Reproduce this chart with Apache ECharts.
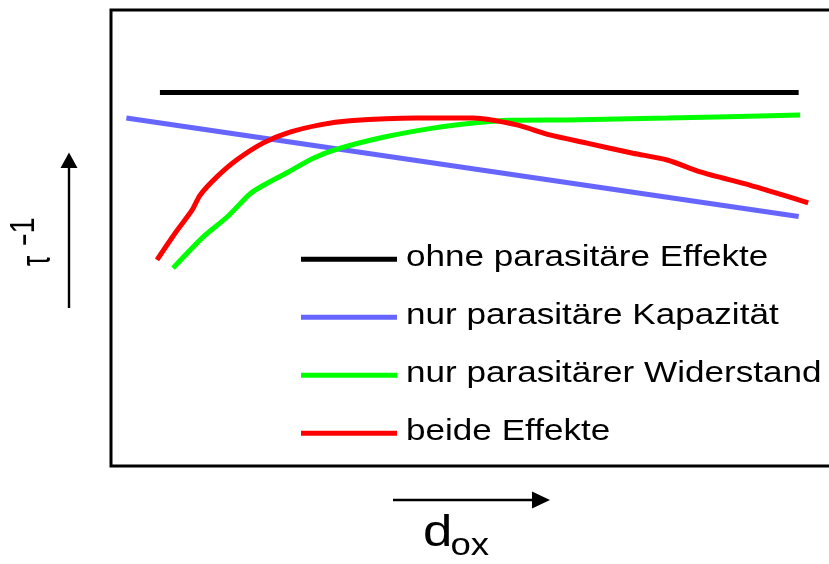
<!DOCTYPE html>
<html>
<head>
<meta charset="utf-8">
<script src="https://cdn.jsdelivr.net/npm/echarts@6/dist/echarts.min.js"></script>
<style>
  html, body { margin: 0; padding: 0; background: #fff; }
  #chart { width: 829px; height: 564px; }
</style>
</head>
<body>
<div id="chart"></div>
<script>
// Schematic: inverse time constant versus oxide thickness (arbitrary units, 0..100)
const seriesNames = [
  'ohne parasitäre Effekte',
  'nur parasitäre Kapazität',
  'nur parasitärer Widerstand',
  'beide Effekte'
];
const seriesColors = ['#000000', '#6666ff', '#00ff00', '#ff0000'];

// ohne parasitäre Effekte
const ohneX = [6.7, 94.2];
const ohneY = [81.9, 81.9];

// nur parasitäre Kapazität
const kapX = [2.1, 94.2];
const kapY = [76.3, 54.7];

// nur parasitärer Widerstand
const widX = [8.5, 12.6, 15.9, 19.0, 20.7, 24.1, 27.7, 31.4, 37.3, 44.1, 49.6, 54.7, 62.5, 76.2, 94.4];
const widY = [43.4, 50.2, 54.6, 59.6, 61.4, 64.3, 67.5, 69.7, 72.1, 74.1, 75.2, 75.8, 75.9, 76.3, 77.0];

// beide Effekte
const beideX = [6.3, 8.8, 11.1, 12.2, 14.5, 17.2, 20.8, 24.1, 28.6, 32.7, 41.9, 49.6, 55.6, 60.1, 65.2, 71.5, 76.2, 80.7, 87.5, 92.1, 95.5];
const beideY = [45.2, 51.1, 56.1, 59.4, 63.4, 67.1, 70.8, 73.0, 74.8, 75.7, 76.3, 76.3, 74.8, 72.6, 70.8, 68.6, 67.1, 64.5, 61.6, 59.4, 57.7];

const xs = [ohneX, kapX, widX, beideX];
const ys = [ohneY, kapY, widY, beideY];
const smoothing = [false, false, 0.25, 0.25];

const zip = (a, b) => a.map((v, i) => [v, b[i]]);

const FONT = '"Liberation Sans", Arial, Helvetica, sans-serif';
const STRETCH = 1.17;

const series = seriesNames.map((name, i) => ({
  name: name,
  type: 'line',
  data: zip(xs[i], ys[i]),
  symbol: 'none',
  smooth: smoothing[i],
  lineStyle: { color: seriesColors[i], width: 5, cap: 'butt' },
  itemStyle: { color: seriesColors[i] },
  silent: true,
  z: 3 + i
}));

// Legend entries: sample stroke + stretched label
const legendItems = [];
seriesNames.forEach((name, i) => {
  const yLine = 259.3 + 58 * i;
  legendItems.push({
    type: 'line',
    shape: { x1: 301, y1: yLine, x2: 397, y2: yLine },
    style: { stroke: seriesColors[i], lineWidth: 5, lineCap: 'butt' },
    silent: true
  });
  legendItems.push({
    type: 'group',
    x: 406, y: yLine + 8.5,
    scaleX: STRETCH,
    children: [{
      type: 'text',
      x: 0, y: -10.5,
      style: {
        text: name, fill: '#000', font: '30px ' + FONT,
        align: 'left', verticalAlign: 'middle'
      }
    }],
    silent: true
  });
});

const axisDecor = [
  // vertical arrow
  { type: 'line', shape: { x1: 69, y1: 308, x2: 69, y2: 165 }, style: { stroke: '#000', lineWidth: 2.4 } },
  { type: 'polygon', shape: { points: [[69, 152.5], [60.5, 168], [77.5, 168]] }, style: { fill: '#000' } },
  // horizontal arrow
  { type: 'line', shape: { x1: 393, y1: 500, x2: 536, y2: 500 }, style: { stroke: '#000', lineWidth: 2.4 } },
  { type: 'polygon', shape: { points: [[550, 500], [532, 491.5], [532, 508.5]] }, style: { fill: '#000' } },
  // y label: tau, rotated to read upwards
  {
    type: 'group', x: 53, y: 266, rotation: Math.PI / 2, scaleX: 0.72, scaleY: 1.2,
    children: [
      { type: 'text', x: 0, y: -12.6, style: { text: 'τ', fill: '#000', font: '36px ' + FONT, align: 'left', verticalAlign: 'middle' } }
    ]
  },
  // superscript -1
  {
    type: 'group', x: 37, y: 246.5, rotation: Math.PI / 2, scaleY: 1.2,
    children: [
      { type: 'group', x: 0, y: 0, scaleX: 1.4, children: [
        { type: 'text', x: 0, y: -10.2, style: { text: '-', fill: '#000', font: '29px ' + FONT, align: 'left', verticalAlign: 'middle' } }
      ] },
      { type: 'text', x: 13, y: -10.2, style: { text: '1', fill: '#000', font: '29px ' + FONT, align: 'left', verticalAlign: 'middle' } }
    ]
  },
  // x label: d_ox
  {
    type: 'group', x: 423, y: 549, scaleX: 1.2,
    children: [
      { type: 'text', x: 0, y: -15.4, style: { text: 'd', fill: '#000', font: '44px ' + FONT, align: 'left', verticalAlign: 'middle' } }
    ]
  },
  {
    type: 'group', x: 450.5, y: 557, scaleX: 1.18,
    children: [
      { type: 'text', x: 0, y: -10.9, style: { text: 'ox', fill: '#000', font: '31px ' + FONT, align: 'left', verticalAlign: 'middle' } }
    ]
  }
];

const chart = echarts.init(document.getElementById('chart'), null, { renderer: 'canvas' });
chart.setOption({
  animation: false,
  backgroundColor: '#ffffff',
  grid: {
    show: true, left: 111, top: 10, width: 730, height: 456,
    outerBoundsMode: 'none', containLabel: false,
    borderColor: '#000', borderWidth: 3, backgroundColor: 'transparent'
  },
  xAxis: { type: 'value', min: 0, max: 100, show: false },
  yAxis: { type: 'value', min: 0, max: 100, show: false },
  series: series,
  graphic: legendItems.concat(axisDecor)
});
</script>
</body>
</html>
